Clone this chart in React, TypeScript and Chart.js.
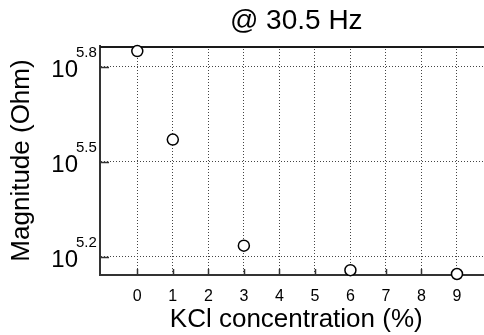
import React, { useEffect, useRef } from "react";
import { Chart, registerables } from "chart.js";

Chart.register(...registerables);

// ---- data ----
const concentrations = [0, 1, 3, 6, 9];
const magnitudes = [708000, 372000, 172000, 144000, 140000];
const xTicks = [0, 1, 2, 3, 4, 5, 6, 7, 8, 9];
const yTickExponents = [5.2, 5.5, 5.8];
const xMin = -1.05;
const xMax = 10;
const yMinExp = 5.143;
const yMaxExp = 5.866;
const titleText = "@ 30.5 Hz";
const xLabel = "KCl concentration (%)";
const yLabel = "Magnitude (Ohm)";

const FONT = "'Liberation Sans', Arial, Helvetica, sans-serif";
const CANVAS_W = 575;
const CANVAS_H = 335;

const decorPlugin = {
  id: "decor",
  beforeDatasetsDraw(chart: any) {
    const { ctx, chartArea, scales } = chart;
    const { left, right, top, bottom } = chartArea;
    const x = scales.x;
    const y = scales.y;
    ctx.save();
    ctx.strokeStyle = "#1a1a1a";
    ctx.lineWidth = 2;
    ctx.beginPath();
    ctx.moveTo(left, top + 1);
    ctx.lineTo(right, top + 1);
    ctx.stroke();
    ctx.strokeStyle = "#333";
    ctx.lineWidth = 1.5;
    x.ticks.forEach((t: any) => {
      const px = Math.round(x.getPixelForValue(t.value)) + 0.5;
      ctx.beginPath();
      ctx.moveTo(px, bottom);
      ctx.lineTo(px, bottom - 6);
      ctx.stroke();
    });
    y.ticks.forEach((t: any) => {
      const py = Math.round(y.getPixelForValue(t.value)) + 0.5;
      ctx.beginPath();
      ctx.moveTo(left, py);
      ctx.lineTo(left + 9, py);
      ctx.stroke();
    });
    ctx.fillStyle = "#000";
    yTickExponents.forEach((e) => {
      const py = y.getPixelForValue(Math.pow(10, e));
      ctx.font = `24px ${FONT}`;
      ctx.textAlign = "right";
      ctx.textBaseline = "alphabetic";
      ctx.fillText("10", 78, py + 10);
      ctx.font = `15px ${FONT}`;
      ctx.textAlign = "left";
      ctx.fillText(e.toFixed(1), 76, py - 10);
    });
    ctx.restore();
  },
};

export default function App() {
  const canvasRef = useRef<HTMLCanvasElement | null>(null);

  useEffect(() => {
    const canvas = canvasRef.current;
    if (!canvas) return;
    const chart = new Chart(canvas, {
      type: "scatter",
      data: {
        datasets: [
          {
            data: concentrations.map((c, i) => ({ x: c, y: magnitudes[i] })),
            showLine: false,
            pointRadius: 5.5,
            pointBorderWidth: 1.5,
            borderColor: "#000",
            backgroundColor: "#fff",
            pointBackgroundColor: "#fff",
            pointBorderColor: "#000",
            clip: false as any,
          },
        ],
      },
      options: {
        animation: false,
        responsive: false,
        devicePixelRatio: 1,
        events: [],
        layout: { padding: { left: 0, right: 82.5, top: 0, bottom: 0 } },
        plugins: {
          legend: { display: false },
          tooltip: { enabled: false },
          title: {
            display: true,
            fullSize: false,
            text: titleText,
            color: "#000",
            font: { size: 28, family: FONT, weight: "normal" as any },
            padding: { top: 4, bottom: 8.4 },
          },
        },
        scales: {
          x: {
            type: "linear",
            min: xMin,
            max: xMax,
            afterBuildTicks: (s: any) => {
              s.ticks = xTicks.map((v) => ({ value: v }));
            },
            afterFit: (s: any) => {
              s.height = CANVAS_H - 275;
            },
            grid: { color: "#444", lineWidth: 1, drawTicks: false },
            border: { display: true, color: "#333", width: 2, dash: [1, 2] },
            ticks: {
              color: "#000",
              font: { size: 16, family: FONT },
              padding: 12,
              maxRotation: 0,
              autoSkip: false,
              callback: (v: any) => String(v),
            },
            title: {
              display: true,
              text: xLabel,
              color: "#000",
              font: { size: 26, family: FONT },
              padding: { top: 0, bottom: 0 },
            },
          },
          y: {
            type: "logarithmic",
            min: Math.pow(10, yMinExp),
            max: Math.pow(10, yMaxExp),
            afterBuildTicks: (s: any) => {
              s.ticks = yTickExponents.map((e) => ({ value: Math.pow(10, e) }));
            },
            afterFit: (s: any) => {
              s.width = 100;
            },
            grid: { color: "#444", lineWidth: 1, drawTicks: false },
            border: { display: true, color: "#333", width: 2, dash: [1, 2] },
            ticks: { display: false },
            title: {
              display: true,
              text: yLabel,
              color: "#000",
              font: { size: 26, family: FONT },
              padding: { top: 6, bottom: 0 },
            },
          },
        },
      },
      plugins: [decorPlugin],
    });
    return () => chart.destroy();
  }, []);

  return (
    <div
      style={{
        position: "fixed",
        left: 0,
        top: 0,
        width: 484,
        height: 335,
        overflow: "hidden",
        background: "#fff",
      }}
    >
      <canvas ref={canvasRef} width={CANVAS_W} height={CANVAS_H} style={{ display: "block" }} />
    </div>
  );
}
